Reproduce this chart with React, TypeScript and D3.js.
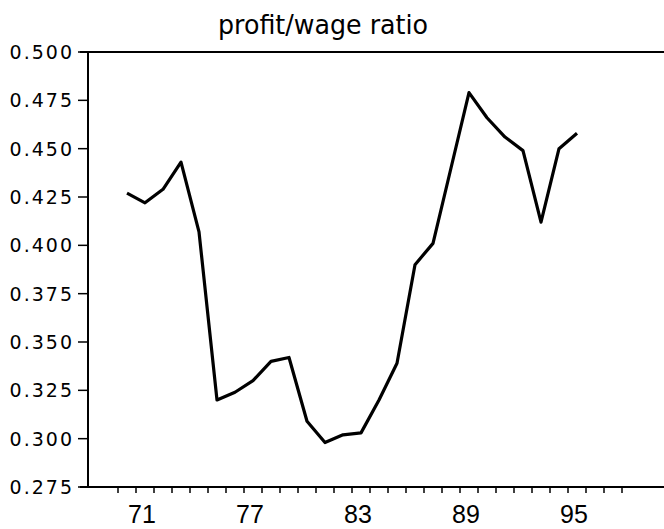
import React, { useEffect, useRef } from 'react';
import * as d3 from 'd3';

// profit/wage ratio, one value a year
const years = [
  1970, 1971, 1972, 1973, 1974, 1975, 1976, 1977, 1978, 1979, 1980, 1981, 1982,
  1983, 1984, 1985, 1986, 1987, 1988, 1989, 1990, 1991, 1992, 1993, 1994, 1995,
];
const ratio = [
  0.427, 0.422, 0.429, 0.443, 0.407, 0.320, 0.324, 0.330, 0.340, 0.342, 0.309,
  0.298, 0.302, 0.303, 0.320, 0.339, 0.390, 0.401, 0.440, 0.479, 0.466, 0.456,
  0.449, 0.412, 0.450, 0.458,
];
const yTicks = [0.275, 0.3, 0.325, 0.35, 0.375, 0.4, 0.425, 0.45, 0.475, 0.5];
const xLabels = [1971, 1977, 1983, 1989, 1995];

const App = () => {
  const chartRef = useRef<HTMLDivElement>(null);

  useEffect(() => {
    const width = 664;
    const height = 529;
    const left = 88;
    const top = 52;
    const bottom = 487;

    const root = d3.select(chartRef.current);
    root.selectAll('*').remove();

    const svg = root
      .append('svg')
      .attr('width', width)
      .attr('height', height)
      .style('display', 'block')
      .style('background', '#fff');

    const x = d3.scaleLinear().domain([1970, 1995]).range([127, 577]);
    const y = d3.scaleLinear().domain([0.275, 0.5]).range([bottom, top]);

    // title
    svg
      .append('text')
      .attr('x', 323)
      .attr('y', 34)
      .attr('text-anchor', 'middle')
      .attr('font-family', 'DejaVu Sans, sans-serif')
      .attr('font-size', 27)
      .attr('textLength', 210)
      .attr('lengthAdjust', 'spacingAndGlyphs')
      .text('profit/wage ratio');

    // frame: left axis, top rule and bottom axis (runs off the right edge)
    const axes = svg.append('g').attr('stroke', '#000').attr('stroke-width', 2);
    axes.append('line').attr('x1', left).attr('x2', left).attr('y1', top).attr('y2', bottom);
    axes.append('line').attr('x1', 80).attr('x2', width).attr('y1', top).attr('y2', top);
    axes.append('line').attr('x1', 80).attr('x2', width).attr('y1', bottom).attr('y2', bottom);

    // y ticks and labels
    const fmt = d3.format('.3f');
    const yt = svg.append('g');
    yt.selectAll('line')
      .data(yTicks)
      .enter()
      .append('line')
      .attr('x1', left - 10)
      .attr('x2', left)
      .attr('y1', (d) => y(d))
      .attr('y2', (d) => y(d))
      .attr('stroke', '#000')
      .attr('stroke-width', 1.5);
    yt.selectAll('text')
      .data(yTicks)
      .enter()
      .append('text')
      .attr('x', 74)
      .attr('y', (d) => y(d))
      .attr('dy', '0.36em')
      .attr('text-anchor', 'end')
      .attr('font-family', 'DejaVu Sans, sans-serif')
      .attr('font-size', 19)
      .attr('letter-spacing', 2)
      .text((d) => fmt(d));

    // x ticks sit between the years
    const xTicks = d3.range(1969.5, 1998, 1);
    svg
      .append('g')
      .selectAll('line')
      .data(xTicks)
      .enter()
      .append('line')
      .attr('x1', (d) => x(d))
      .attr('x2', (d) => x(d))
      .attr('y1', bottom)
      .attr('y2', bottom + 6)
      .attr('stroke', '#000')
      .attr('stroke-width', 1.5);

    svg
      .append('g')
      .selectAll('text')
      .data(xLabels)
      .enter()
      .append('text')
      .attr('x', (d) => x(d) - 3)
      .attr('y', 523)
      .attr('text-anchor', 'middle')
      .attr('font-family', 'Liberation Sans, sans-serif')
      .attr('font-size', 25)
      .text((d) => String(d % 100));

    // the series
    const line = d3
      .line<number>()
      .x((d, i) => x(years[i]))
      .y((d) => y(d));

    svg
      .append('path')
      .datum(ratio)
      .attr('d', line)
      .attr('fill', 'none')
      .attr('stroke', '#000')
      .attr('stroke-width', 3.2)
      .attr('stroke-linejoin', 'round');
  }, []);

  return (
    <div style={{ position: 'absolute', left: 0, top: 0 }}>
      <div ref={chartRef}></div>
    </div>
  );
};

export default App;
